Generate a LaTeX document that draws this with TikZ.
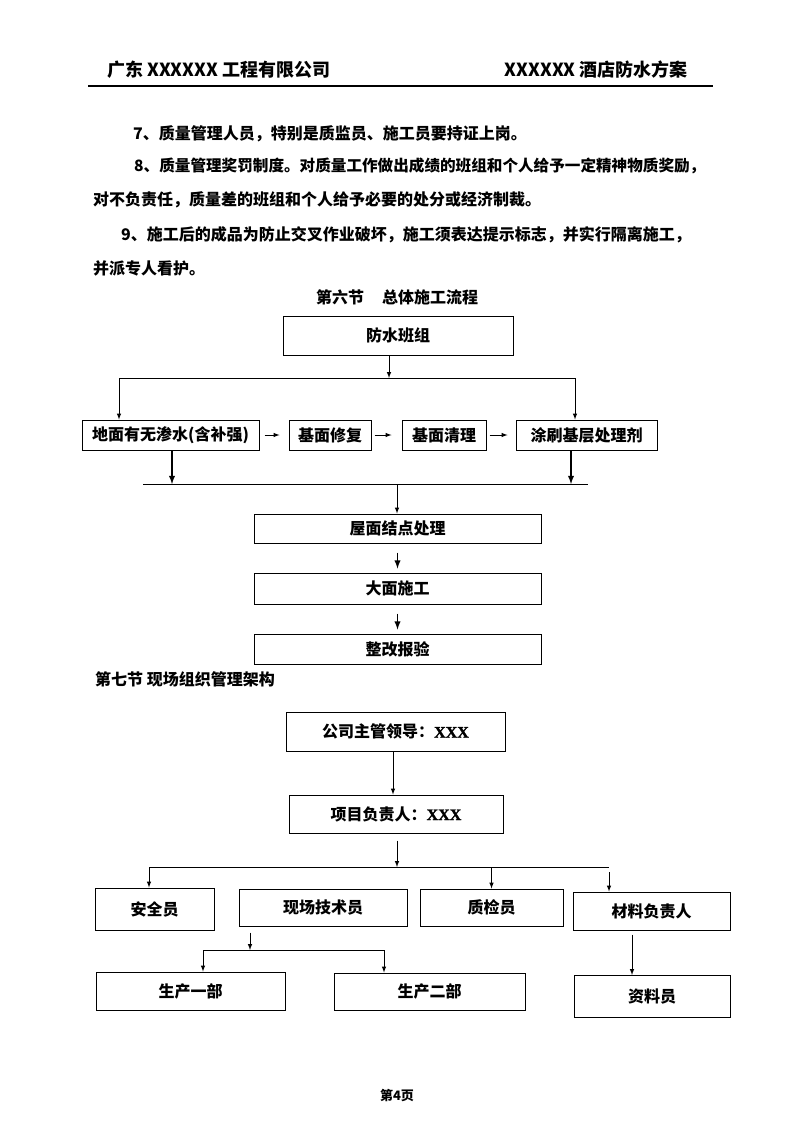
\documentclass[tikz,border=0pt]{standalone}
\usepackage{fontspec}
\setmainfont{Noto Sans CJK SC}
\newfontfamily\xfont[FakeBold=1.5]{Liberation Serif Bold}
\usetikzlibrary{arrows, positioning}
\tikzstyle{header} = [inner sep=0pt, font=\bfseries\fontsize{18}{18}\selectfont]
\tikzstyle{para} = [inner sep=0pt, anchor=west, font=\bfseries\fontsize{16}{16}\selectfont]
\tikzstyle{flowbox} = [draw, line width=1pt, rectangle, inner sep=0pt, font=\bfseries\fontsize{16}{16}\selectfont]
\tikzstyle{arr} = [->, >=latex, line width=1pt]
\tikzstyle{thickarr} = [->, >=latex, line width=1.8pt]
\newcommand{\xxx}{{\xfont\mdseries XXX}}

\begin{document}
\begin{tikzpicture}[x=1pt, y=-1pt]
	\fill[white] (0,0) rectangle (794,1123);
	\useasboundingbox (0,0) rectangle (794,1123);
	% header
	\node[header, anchor=west] (gongsi) at (107,70) {广东 XXXXXX 工程有限公司};
	\node[header, anchor=east] (fangan) at (688,70) {XXXXXX 酒店防水方案};
	\draw[line width=2pt] (88,86) -- (713,86);
	% text
	\node[para] (p7) at (133,134) {7、质量管理人员，特别是质监员、施工员要持证上岗。};
	\node[para, font=\bfseries\fontsize{15.6}{16}\selectfont] (p8) at (134,166) {8、质量管理奖罚制度。对质量工作做出成绩的班组和个人给予一定精神物质奖励，};
	\node[para] (p8b) at (93,200) {对不负责任，质量差的班组和个人给予必要的处分或经济制裁。};
	\node[para] (p9) at (121,235) {9、施工后的成品为防止交叉作业破坏，施工须表达提示标志，并实行隔离施工，};
	\node[para] (p9b) at (93,268) {并派专人看护。};
	\node[para, anchor=center] (jie6) at (397,297) {第六节\hspace{18pt}总体施工流程};
	% flow
	\node[flowbox, minimum width=230, minimum height=39] (banzu) at (398,335.5) {防水班组};
	\node[flowbox, minimum width=177, minimum height=30] (shenshui) at (170.5,435) {地面有无渗水(含补强)};
	\node[flowbox, minimum width=82, minimum height=30] (xiufu) at (330,435) {基面修复};
	\node[flowbox, minimum width=84, minimum height=30] (qingli) at (444,435) {基面清理};
	\node[flowbox, minimum width=141, minimum height=30] (tushua) at (586.5,435) {涂刷基层处理剂};
	\node[flowbox, minimum width=287, minimum height=29] (jiedian) at (397.5,528.5) {屋面结点处理};
	\node[flowbox, minimum width=287, minimum height=31] (damian) at (397.5,588.5) {大面施工};
	\node[flowbox, minimum width=287, minimum height=30] (baoyan) at (397.5,649) {整改报验};
	\coordinate (fen) at (389,378);
	\coordinate (fenl) at (119,378);
	\coordinate (fenr) at (575,378);
	\coordinate (hel) at (143,484);
	\coordinate (her) at (588,484);
	\coordinate (he) at (397,484);
	\draw[arr] (fen |- banzu.south) -- (fen);
	\draw[line width=1pt] (fenl) -- (fenr);
	\draw[arr] (fenl) -- (fenl |- shenshui.north);
	\draw[arr] (fenr) -- (fenr |- tushua.north);
	\draw[arr, shorten <=5pt, shorten >=9pt] (shenshui) -- (xiufu);
	\draw[arr, shorten <=3pt, shorten >=10pt] (xiufu) -- (qingli);
	\draw[arr, shorten <=3pt, shorten >=8pt] (qingli) -- (tushua);
	\draw[line width=1pt] (hel) -- (her);
	\draw[thickarr] (shenshui.south -| 172,0) -- (172,484);
	\draw[thickarr] (tushua.south -| 571,0) -- (571,484);
	\draw[arr] (he) -- (he |- jiedian.north);
	\draw[thickarr, shorten <=9pt, shorten >=4pt] (jiedian) -- (damian);
	\draw[thickarr, shorten <=9pt, shorten >=4pt] (damian) -- (baoyan);
	% org chart
	\node[para] (jie7) at (95,679) {第七节 现场组织管理架构};
	\node[flowbox, minimum width=219, minimum height=39] (lingdao) at (395.5,731.5) {公司主管领导：\xxx};
	\node[flowbox, minimum width=214, minimum height=38] (fuze) at (396,814) {项目负责人：\xxx};
	\node[flowbox, minimum width=119, minimum height=42] (anquan) at (154.5,909) {安全员};
	\node[flowbox, minimum width=168, minimum height=37] (jishu) at (323,907.5) {现场技术员};
	\node[flowbox, minimum width=143, minimum height=37] (zhijian) at (491.5,907.5) {质检员};
	\node[flowbox, minimum width=157, minimum height=38] (cailiao) at (651.5,911) {材料负责人};
	\node[flowbox, minimum width=189, minimum height=38] (yibu) at (190.5,991) {生产一部};
	\node[flowbox, minimum width=191, minimum height=37] (erbu) at (429.5,991.5) {生产二部};
	\node[flowbox, minimum width=156, minimum height=42] (ziliao) at (652,996) {资料员};
	\coordinate (zhu) at (393,751);
	\coordinate (fz) at (397,867);
	\coordinate (fzl) at (149,867);
	\coordinate (fzr) at (609,867);
	\coordinate (js) at (250,950);
	\coordinate (jsl) at (203,950);
	\coordinate (jsr) at (384,950);
	\coordinate (zl) at (632,975);
	\draw[arr] (zhu) -- (zhu |- fuze.north);
	\draw[arr, shorten <=7pt] (fz |- fuze.south) -- (fz);
	\draw[line width=1pt] (fzl) -- (fzr);
	\draw[arr] (fzl) -- (fzl |- anquan.north);
	\draw[arr] (fzl -| zhijian.north) -- (zhijian.north);
	\draw[arr, shorten <=5pt] (fzr) -- (fzr |- cailiao.north);
	\draw[arr, shorten <=6pt] (js |- jishu.south) -- (js);
	\draw[line width=1pt] (jsl) -- (jsr);
	\draw[arr] (jsl) -- (jsl |- yibu.north);
	\draw[arr] (jsr) -- (jsr |- erbu.north);
	\draw[arr, shorten <=4pt] (zl |- cailiao.south) -- (zl);
	% footer
	\node[header, font=\bfseries\fontsize{13}{13}\selectfont] (yema) at (397,1095) {第4页};
\end{tikzpicture}
\end{document}
